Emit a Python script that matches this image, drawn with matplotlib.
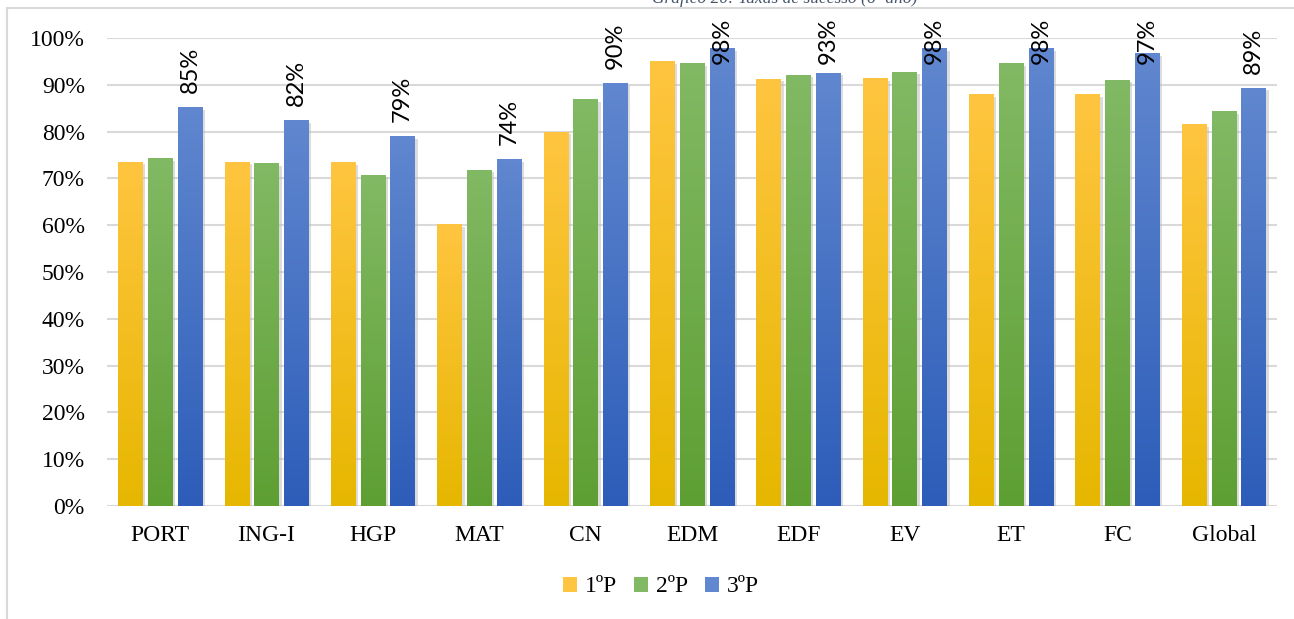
import numpy as np
import matplotlib
matplotlib.use("Agg")
import matplotlib.pyplot as plt
from matplotlib.colors import LinearSegmentedColormap
from matplotlib.lines import Line2D
from matplotlib.patches import Patch
import matplotlib.patheffects as pe

# data (percent)
disciplinas = ["PORT", "ING-I", "HGP", "MAT", "CN", "EDM", "EDF", "EV", "ET", "FC", "Global"]
p1 = [73.6, 73.6, 73.4, 60.3, 80.0, 95.0, 91.3, 91.5, 88.0, 88.0, 81.6]
p2 = [74.3, 73.2, 70.8, 71.9, 86.9, 94.7, 92.2, 92.8, 94.6, 91.1, 84.3]
p3 = [85.2, 82.4, 79.0, 74.2, 90.3, 97.8, 92.6, 97.8, 97.8, 96.8, 89.4]
rotulos = ["85%", "82%", "79%", "74%", "90%", "98%", "93%", "98%", "98%", "97%", "89%"]
series = ["1ºP", "2ºP", "3ºP"]

cores = [("#FFC540", "#E6B700"), ("#82B964", "#5E9F33"), ("#6087CF", "#2D5DB9")]

fig = plt.figure(figsize=(12.94, 6.19), dpi=100)
ax = fig.add_axes([107/1294, 1-506/619, (1277-107)/1294, (506-38)/619])

x = np.arange(len(disciplinas))
w = 0.23
passo = 0.28
grad = np.linspace(0, 1, 256).reshape(-1, 1)

for k, vals in enumerate([p1, p2, p3]):
    cmap = LinearSegmentedColormap.from_list("g%d" % k, [cores[k][1], cores[k][0]])
    bars = ax.bar(x + (k-1)*passo, vals, w, color=cores[k][0], zorder=3,
                  path_effects=[pe.SimplePatchShadow(offset=(2, -2), shadow_rgbFace="#bbbbbb", alpha=0.5), pe.Normal()])
    for b in bars:
        x0, y0 = b.get_x(), b.get_y()
        im = ax.imshow(grad, extent=[x0, x0 + b.get_width(), y0, y0 + b.get_height()],
                       origin="lower", aspect="auto", cmap=cmap, zorder=4)
        im.set_clip_path(b)

for i, v in enumerate(p3):
    ax.text(x[i] + passo, min(v + 3.0, 94.4), rotulos[i], rotation=90, ha="center", va="bottom",
            fontsize=17, family="Lato", color="#000000", zorder=5)

ax.set_xlim(-0.5, len(disciplinas) - 0.5)
ax.set_ylim(0, 100)
ax.set_yticks(np.arange(0, 101, 10))
ax.set_yticklabels(["%d%%" % t for t in range(0, 101, 10)])
ax.set_xticks(x)
ax.set_xticklabels(disciplinas)
ax.yaxis.grid(True, color="#D9D9D9", linewidth=1.5, zorder=0)
ax.set_axisbelow(True)
for s in ax.spines.values():
    s.set_visible(False)
ax.tick_params(length=0, labelsize=17)
ax.tick_params(axis="y", pad=16)
ax.tick_params(axis="x", pad=14)
for t in ax.get_xticklabels() + ax.get_yticklabels():
    t.set_family("Liberation Serif")

# moldura do gráfico
fig.add_artist(Line2D([7/1294, 7/1294], [0, 1-8/619], color="#D9D9D9", lw=1.5))
fig.add_artist(Line2D([7/1294, 1], [1-8/619, 1-8/619], color="#D9D9D9", lw=1.5))

fig.text(785/1294, 1 + 1/619, "Gráfico 20: Taxas de sucesso (6º ano)", ha="center", va="center",
         fontsize=12.5, style="italic", family="Liberation Serif", color="#44546A")

handles = [Patch(facecolor=cores[k][0], label=series[k]) for k in range(3)]
leg = fig.legend(handles=handles, loc="center", bbox_to_anchor=(661/1294, 1-587/619), ncol=3,
                 frameon=False, prop={"family": "Liberation Serif", "size": 17},
                 handlelength=0.6, handleheight=0.6, handletextpad=0.35, columnspacing=0.7)

fig.savefig("out.png", dpi=100)
